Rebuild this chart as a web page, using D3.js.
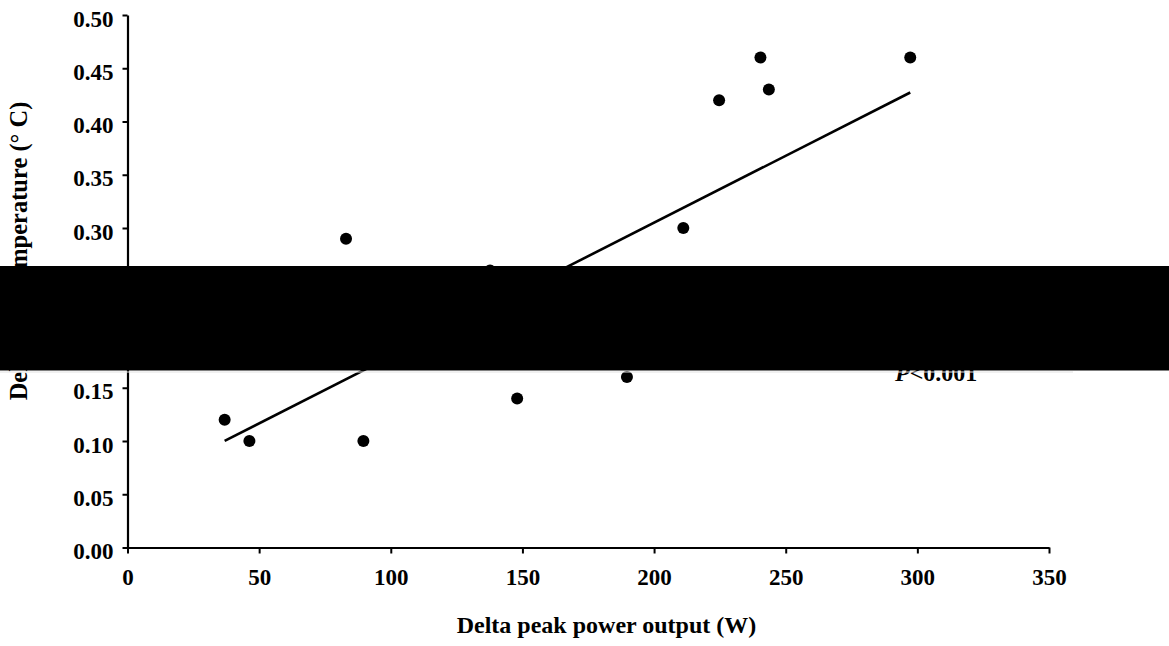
<!DOCTYPE html>
<html>
<head>
<meta charset="utf-8">
<script src="https://cdn.jsdelivr.net/npm/d3@7"></script>
<style>
  html, body { margin: 0; padding: 0; background: #fff; }
  svg { display: block; }
  text { font-family: "Liberation Serif", "Times New Roman", serif; font-weight: bold; fill: #000; }
</style>
</head>
<body>
<svg id="chart" width="1169" height="646"></svg>
<script>
// Delta peak power output (W) vs delta core temperature (°C)
const powerW = [36.9, 46.3, 89.6, 83.0, 137.7, 148.0, 189.7, 211.1, 224.7, 240.4, 243.6, 297.3];
const tempC  = [0.12, 0.10, 0.10, 0.29, 0.26, 0.14, 0.16, 0.30, 0.42, 0.46, 0.43, 0.46];

// Least-squares line reported with the figure
const fitSlope = 0.001256;
const fitIntercept = 0.0538;

const xTicks = [0, 50, 100, 150, 200, 250, 300, 350];
const yTicks = [0.00, 0.05, 0.10, 0.15, 0.20, 0.25, 0.30, 0.35, 0.40, 0.45, 0.50];

const xTitle = "Delta peak power output (W)";
const yTitle = "Delta core temperature (\u00B0 C)";
const statText = "<0.001";

const svg = d3.select("#chart");

const x = d3.scaleLinear().domain([0, 350]).range([127.5, 1049]);
const y = d3.scaleLinear().domain([0, 0.5]).range([547.5, 15]);

// Axes
const yAxis = d3.axisLeft(y)
  .tickValues(yTicks)
  .tickFormat(d3.format(".2f"))
  .tickSize(5)
  .tickSizeOuter(0)
  .tickPadding(9);

const xAxis = d3.axisBottom(x)
  .tickValues(xTicks)
  .tickFormat(d3.format("d"))
  .tickSize(6)
  .tickSizeOuter(0)
  .tickPadding(15.5);

const gy = svg.append("g")
  .attr("transform", `translate(${x(0)},0)`)
  .call(yAxis);
gy.selectAll("text").attr("dy", "0.48em").style("font-size", "23px");

const gx = svg.append("g")
  .attr("transform", `translate(0,${y(0)})`)
  .call(xAxis);
gx.selectAll("text").style("font-size", "23px");

[gx, gy].forEach(g => {
  g.select(".domain").attr("stroke", "#000").attr("stroke-width", 2.2);
  g.selectAll(".tick line").attr("stroke", "#000").attr("stroke-width", 2);
});

// Regression line across the observed range
const xr = d3.extent(powerW);
svg.append("line")
  .attr("x1", x(xr[0])).attr("y1", y(fitIntercept + fitSlope * xr[0]))
  .attr("x2", x(xr[1])).attr("y2", y(fitIntercept + fitSlope * xr[1]))
  .attr("stroke", "#000")
  .attr("stroke-width", 2.6);

// Data points
svg.append("g").selectAll("circle")
  .data(powerW.map((p, i) => [p, tempC[i]]))
  .join("circle")
  .attr("cx", d => x(d[0]))
  .attr("cy", d => y(d[1]))
  .attr("r", 6)
  .attr("fill", "#000");

// Significance annotation
const stat = svg.append("text")
  .attr("x", 895)
  .attr("y", 381)
  .style("font-size", "24px");
stat.append("tspan").style("font-style", "italic").text("P");
stat.append("tspan").text(statText);

// Axis titles
svg.append("text")
  .attr("x", 606.5)
  .attr("y", 633)
  .attr("text-anchor", "middle")
  .style("font-size", "24px")
  .text(xTitle);

svg.append("text")
  .attr("transform", "translate(27,251) rotate(-90)")
  .attr("text-anchor", "middle")
  .style("font-size", "24.5px")
  .text(yTitle);

// Opaque band across the middle of the figure
svg.append("rect")
  .attr("x", 0).attr("y", 266)
  .attr("width", 1169).attr("height", 104.5)
  .attr("fill", "#000");
svg.append("line")
  .attr("x1", 0).attr("x2", 1073)
  .attr("y1", 372).attr("y2", 372)
  .attr("stroke", "#e2e2e2")
  .attr("stroke-width", 1);
</script>
</body>
</html>
